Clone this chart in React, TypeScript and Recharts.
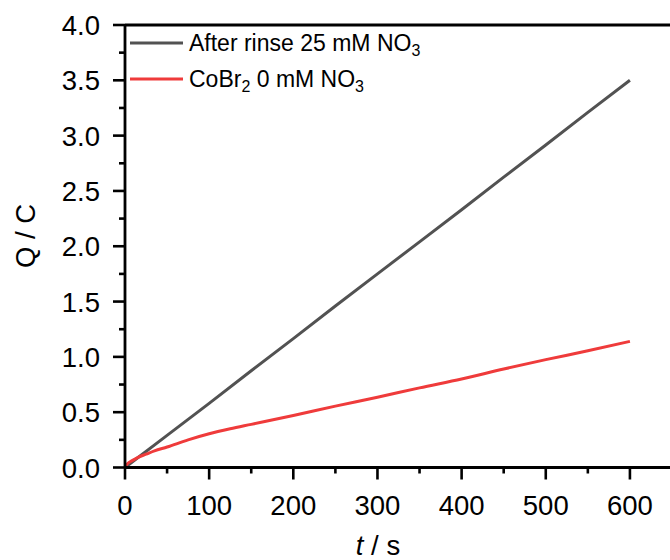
import { Line, LineChart, ReferenceLine, XAxis, YAxis } from 'recharts'

// time points (s) and charge (C) for both runs
const tGray = [0, 50, 100, 150, 200, 250, 300, 350, 400, 450, 500, 550, 600]
const qGray = [0, 0.29, 0.58, 0.875, 1.165, 1.46, 1.75, 2.04, 2.33, 2.625, 2.915, 3.21, 3.5]

const tRed = [0, 3, 8, 15, 25, 35, 50, 75, 100, 125, 150, 200, 250, 300, 350, 400, 450, 500, 550, 600]
const qRed = [0, 0.035, 0.06, 0.09, 0.12, 0.15, 0.185, 0.25, 0.305, 0.35, 0.39, 0.47, 0.555, 0.635, 0.72, 0.8, 0.89, 0.975, 1.055, 1.14]

const xTicks = [0, 50, 100, 150, 200, 250, 300, 350, 400, 450, 500, 550, 600, 650]
const yTicks = [0, 0.25, 0.5, 0.75, 1, 1.25, 1.5, 1.75, 2, 2.25, 2.5, 2.75, 3, 3.25, 3.5, 3.75, 4]

const GRAY = '#525252'
const RED = '#ef3b3b'
const FONT = '"Liberation Sans", Arial, sans-serif'

const grayData = tGray.map((t, i) => ({ t, q: qGray[i] }))
const redData = tRed.map((t, i) => ({ t, q: qRed[i] }))

function XTick({ x, y, payload }: any) {
  const major = payload.value % 100 === 0
  return (
    <g>
      <line x1={x} x2={x} y1={y} y2={y + (major ? 12 : 6)} stroke="#000" strokeWidth={2.6} />
      {major && (
        <text x={x} y={y + 47} textAnchor="middle" fontSize={27.5} fontFamily={FONT} fill="#000">
          {payload.value}
        </text>
      )}
    </g>
  )
}

function YTick({ x, y, payload }: any) {
  const major = Math.abs((payload.value * 2) % 1) < 1e-6
  return (
    <g>
      <line x1={x} x2={x - (major ? 12 : 6)} y1={y} y2={y} stroke="#000" strokeWidth={2.6} />
      {major && (
        <text x={x - 25} y={y + 10} textAnchor="end" fontSize={27.5} fontFamily={FONT} fill="#000">
          {payload.value.toFixed(1)}
        </text>
      )}
    </g>
  )
}

function Legend() {
  const rows = [
    { color: GRAY, name: 'After rinse 25 mM NO', y: 43 },
    { color: RED, name: 'CoBr', sub: '2', rest: ' 0 mM NO', y: 79 },
  ]
  return (
    <svg width={670} height={560} style={{ position: 'absolute', left: 0, top: 0, pointerEvents: 'none' }}>
      {rows.map((r) => (
        <g key={r.name}>
          <line x1={130} x2={183} y1={r.y} y2={r.y} stroke={r.color} strokeWidth={3} />
          <text x={189} y={r.y + 8} fontSize={23} fontFamily={FONT} fill="#000">
            {r.name}
            {r.sub && (
              <>
                <tspan fontSize={16} dy={5}>{r.sub}</tspan>
                <tspan dy={-5}>{r.rest}</tspan>
              </>
            )}
            <tspan fontSize={16} dy={5}>3</tspan>
          </text>
        </g>
      ))}
    </svg>
  )
}

export default function App() {
  return (
    <div style={{ position: 'absolute', left: 0, top: 0, width: 670, height: 560, overflow: 'hidden', background: '#fff' }}>
      <LineChart width={700} height={560} margin={{ top: 25, right: 28, left: 0, bottom: 0 }}>
        <XAxis
          type="number"
          dataKey="t"
          domain={[0, 650]}
          ticks={xTicks}
          allowDataOverflow
          height={92.5}
          axisLine={{ stroke: '#000', strokeWidth: 2.8 }}
          tickLine={false}
          tickSize={0}
          tickMargin={0}
          tick={<XTick />}
          interval={0}
          label={({ viewBox }: any) => (
            <text x={378} y={viewBox.y + 87} textAnchor="middle" fontSize={27.5} fontFamily={FONT} fill="#000">
              <tspan fontStyle="italic">t</tspan> / s
            </text>
          )}
        />
        <YAxis
          type="number"
          dataKey="q"
          domain={[0, 4]}
          ticks={yTicks}
          width={125}
          axisLine={{ stroke: '#000', strokeWidth: 2.8 }}
          tickLine={false}
          tickSize={0}
          tickMargin={0}
          tick={<YTick />}
          interval={0}
          label={() => (
            <text x={35} y={236} transform="rotate(-90 35 236)" textAnchor="middle" fontSize={27.5} fontFamily={FONT} fill="#000">
              Q / C
            </text>
          )}
        />
        <ReferenceLine y={4} stroke="#000" strokeWidth={2.8} />
        <Line data={grayData} dataKey="q" type="linear" stroke={GRAY} strokeWidth={3} dot={false} isAnimationActive={false} />
        <Line data={redData} dataKey="q" type="monotone" stroke={RED} strokeWidth={3} dot={false} isAnimationActive={false} />
      </LineChart>
      <Legend />
    </div>
  )
}
